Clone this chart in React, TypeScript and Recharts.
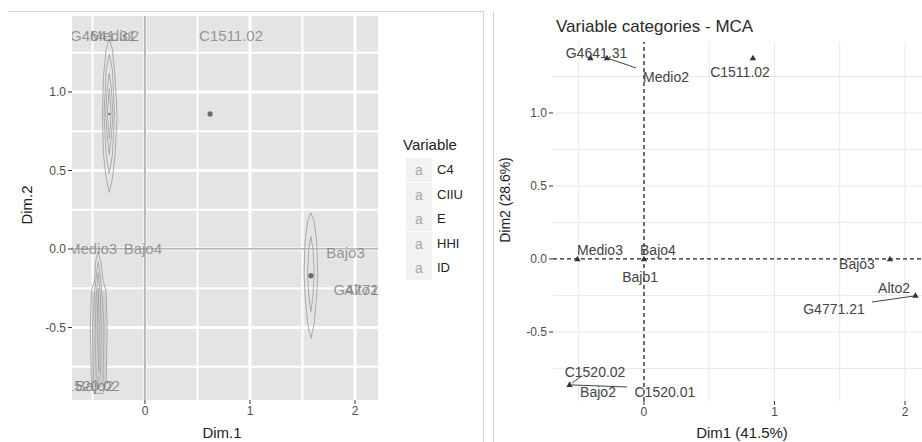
import React from 'react';
import { ScatterChart, Scatter, XAxis, YAxis, ReferenceLine, ReferenceArea, CartesianGrid } from 'recharts';

const FONT = '"Liberation Sans", Arial, Helvetica, sans-serif';

// ---------- Left panel data ----------
const leftXDomain = [-0.695, 2.219];
const leftYDomain = [-0.962, 1.484];
const leftXTicks = [0, 1, 2];
const leftYTicks = [-0.5, 0, 0.5, 1];
const leftMajorX = [0, 1, 2];
const leftMinorX = [-0.5, 0.5, 1.5];
const leftMajorY = [-0.5, 0, 0.5, 1];
const leftMinorY = [-0.75, -0.25, 0.25, 0.75, 1.25];

const leftBigPoints = [
  { x: 0.62, y: 0.86 },
  { x: 1.58, y: -0.17 },
];
const leftSmallPoints = [{ x: -0.34, y: 0.86 }];

const leftLabels = [
  { x: -0.4, y: 1.357, text: 'G4641.31' },
  { x: -0.29, y: 1.357, text: 'Medio2' },
  { x: 0.82, y: 1.357, text: 'C1511.02' },
  { x: -0.5, y: 0.0, text: 'Medio3' },
  { x: -0.02, y: 0.0, text: 'Bajo4' },
  { x: 1.91, y: -0.02, text: 'Bajo3' },
  { x: 2.11, y: -0.26, text: 'G4771.21' },
  { x: 2.06, y: -0.26, text: 'Alto2' },
  { x: -0.55, y: -0.87, text: 'C1520.02' },
  { x: -0.48, y: -0.87, text: 'Bajo2' },
];

// density contours
const contourA1 = [
  { x: -0.34, y: 0.36 }, { x: -0.31, y: 0.45 }, { x: -0.285, y: 0.6 }, { x: -0.265, y: 0.85 },
  { x: -0.285, y: 1.1 }, { x: -0.31, y: 1.27 }, { x: -0.34, y: 1.34 }, { x: -0.37, y: 1.27 },
  { x: -0.395, y: 1.1 }, { x: -0.405, y: 0.85 }, { x: -0.395, y: 0.6 }, { x: -0.37, y: 0.45 }, { x: -0.34, y: 0.36 },
];
const contourA2 = [
  { x: -0.34, y: 0.48 }, { x: -0.31, y: 0.6 }, { x: -0.29, y: 0.86 }, { x: -0.31, y: 1.14 },
  { x: -0.34, y: 1.24 }, { x: -0.37, y: 1.14 }, { x: -0.39, y: 0.86 }, { x: -0.37, y: 0.6 }, { x: -0.34, y: 0.48 },
];
const contourA3 = [
  { x: -0.34, y: 0.6 }, { x: -0.32, y: 0.72 }, { x: -0.305, y: 0.86 }, { x: -0.32, y: 1.02 },
  { x: -0.34, y: 1.12 }, { x: -0.36, y: 1.02 }, { x: -0.375, y: 0.86 }, { x: -0.36, y: 0.72 }, { x: -0.34, y: 0.6 },
];
const contourA4 = [
  { x: -0.34, y: 0.7 }, { x: -0.322, y: 0.86 }, { x: -0.34, y: 1.02 }, { x: -0.358, y: 0.86 }, { x: -0.34, y: 0.7 },
];
const contourB1 = [
  { x: 1.58, y: -0.57 }, { x: 1.61, y: -0.48 }, { x: 1.635, y: -0.3 }, { x: 1.645, y: -0.15 },
  { x: 1.635, y: 0.05 }, { x: 1.61, y: 0.18 }, { x: 1.58, y: 0.23 }, { x: 1.55, y: 0.18 },
  { x: 1.525, y: 0.05 }, { x: 1.515, y: -0.15 }, { x: 1.525, y: -0.3 }, { x: 1.55, y: -0.48 }, { x: 1.58, y: -0.57 },
];
const contourB2 = [
  { x: 1.58, y: -0.4 }, { x: 1.6, y: -0.3 }, { x: 1.612, y: -0.15 }, { x: 1.6, y: 0.0 },
  { x: 1.58, y: 0.08 }, { x: 1.56, y: 0.0 }, { x: 1.548, y: -0.15 }, { x: 1.56, y: -0.3 }, { x: 1.58, y: -0.4 },
];
const contourC1 = [
  { x: -0.445, y: -0.02 }, { x: -0.42, y: -0.08 }, { x: -0.4, y: -0.2 }, { x: -0.37, y: -0.27 },
  { x: -0.36, y: -0.5 }, { x: -0.37, y: -0.85 }, { x: -0.4, y: -0.92 }, { x: -0.48, y: -0.92 },
  { x: -0.51, y: -0.85 }, { x: -0.52, y: -0.5 }, { x: -0.51, y: -0.27 }, { x: -0.48, y: -0.2 },
  { x: -0.47, y: -0.08 }, { x: -0.445, y: -0.02 },
];
const contourC2 = [
  { x: -0.445, y: -0.08 }, { x: -0.43, y: -0.15 }, { x: -0.41, y: -0.28 }, { x: -0.39, y: -0.5 },
  { x: -0.4, y: -0.84 }, { x: -0.445, y: -0.89 }, { x: -0.49, y: -0.84 }, { x: -0.5, y: -0.5 },
  { x: -0.48, y: -0.28 }, { x: -0.46, y: -0.15 }, { x: -0.445, y: -0.08 },
];
const contourC3 = [
  { x: -0.445, y: -0.15 }, { x: -0.425, y: -0.3 }, { x: -0.415, y: -0.55 }, { x: -0.425, y: -0.8 },
  { x: -0.445, y: -0.85 }, { x: -0.465, y: -0.8 }, { x: -0.475, y: -0.55 }, { x: -0.465, y: -0.3 }, { x: -0.445, y: -0.15 },
];
const contourC4 = [
  { x: -0.445, y: -0.25 }, { x: -0.435, y: -0.5 }, { x: -0.44, y: -0.78 }, { x: -0.455, y: -0.5 }, { x: -0.445, y: -0.25 },
];
const leftContours = [contourA1, contourA2, contourA3, contourA4, contourB1, contourB2, contourC1, contourC2, contourC3, contourC4];
// dense band of overlapping contours (lower-left cluster)
const denseBand = { x1: -0.505, x2: -0.37, y1: -0.88, y2: -0.27 };

const legendTitle = 'Variable';
const legendItems = ['C4', 'CIIU', 'E', 'HHI', 'ID'];

// ---------- Right panel data ----------
const rightXDomain = [-0.697, 2.253];
const rightYDomain = [-0.973, 1.486];
const rightXTicks = [0, 1, 2];
const rightYTicks = [-0.5, 0, 0.5, 1];
const rightGridX = [-0.5, 0.5, 1, 1.5, 2];
const rightGridY = [-0.75, -0.5, -0.25, 0.25, 0.5, 0.75, 1, 1.25];

const rightPoints = [
  { x: -0.41, y: 1.377 },
  { x: -0.284, y: 1.377 },
  { x: 0.835, y: 1.377 },
  { x: -0.51, y: 0.0 },
  { x: 0.0, y: 0.0 },
  { x: 1.885, y: 0.0 },
  { x: 2.08, y: -0.25 },
  { x: -0.57, y: -0.86 },
];
const rightLabels = [
  { x: -0.364, y: 1.411, text: 'G4641.31' },
  { x: 0.169, y: 1.247, text: 'Medio2' },
  { x: 0.736, y: 1.281, text: 'C1511.02' },
  { x: -0.337, y: 0.062, text: 'Medio3' },
  { x: 0.107, y: 0.062, text: 'Bajo4' },
  { x: -0.03, y: -0.123, text: 'Bajo1' },
  { x: 1.632, y: -0.034, text: 'Bajo3' },
  { x: 1.916, y: -0.2, text: 'Alto2' },
  { x: 1.456, y: -0.342, text: 'G4771.21' },
  { x: -0.375, y: -0.774, text: 'C1520.02' },
  { x: -0.352, y: -0.911, text: 'Bajo2' },
  { x: 0.16, y: -0.911, text: 'C1520.01' },
];
const segMedio2 = [{ x: -0.284, y: 1.377 }, { x: -0.061, y: 1.308 }];
const segG4771 = [{ x: 1.747, y: -0.295 }, { x: 2.077, y: -0.253 }];
const segC152001 = [{ x: -0.552, y: -0.863 }, { x: -0.13, y: -0.877 }];
const segC152002 = [{ x: -0.552, y: -0.85 }, { x: -0.475, y: -0.8 }];
const rightSegments = [segMedio2, segG4771, segC152001, segC152002];

const fmt1 = (v: number) => (v === 0 ? '0.0' : v.toFixed(1));
const none = () => <g />;

const mkLabel = (fill: string, fs: number) => (p: any) => (
  <text x={p.cx} y={p.cy} textAnchor="middle" dominantBaseline="central" fill={fill} fontSize={fs} fontFamily={FONT}>
    {p.payload.text}
  </text>
);
const mkDot = (r: number, fill: string) => (p: any) => <circle cx={p.cx} cy={p.cy} r={r} fill={fill} />;
const tri = (p: any) => (
  <polygon points={`${p.cx},${p.cy - 3.2} ${p.cx - 3.2},${p.cy + 2.4} ${p.cx + 3.2},${p.cy + 2.4}`} fill="#333" />
);

const tickStyle = { fill: '#4d4d4d', fontSize: 12, fontFamily: FONT };

export default function App() {
  return (
    <div style={{ position: 'absolute', left: 0, top: 0, width: 922, height: 442, overflow: 'hidden', background: '#fff', fontFamily: FONT }}>
      {/* frame lines */}
      <div style={{ position: 'absolute', left: 8, top: 11, width: 475, height: 1, background: '#d4d4d4' }} />
      <div style={{ position: 'absolute', left: 483, top: 11, width: 1, height: 431, background: '#d4d4d4' }} />
      <div style={{ position: 'absolute', left: 493, top: 11, width: 1, height: 431, background: '#d4d4d4' }} />

      {/* Left panel */}
      <div style={{ position: 'absolute', left: 0, top: 0 }}>
        <ScatterChart width={380} height={442} margin={{ top: 16, right: 2, left: 0, bottom: 0 }}>
          <CartesianGrid fill="#e4e4e4" stroke="#ffffff" strokeWidth={2}
            verticalValues={leftMinorX} horizontalValues={leftMinorY} />
          <CartesianGrid stroke="#ffffff" strokeWidth={3}
            verticalValues={leftMajorX} horizontalValues={leftMajorY} />
          <XAxis type="number" dataKey="x" domain={leftXDomain} ticks={leftXTicks} allowDataOverflow height={42}
            axisLine={false} tickLine={{ stroke: '#333' }} tickSize={4} tick={tickStyle} interval={0} />
          <YAxis type="number" dataKey="y" domain={leftYDomain} ticks={leftYTicks} allowDataOverflow width={72}
            axisLine={false} tickLine={{ stroke: '#333' }} tickSize={4} tick={tickStyle} tickFormatter={fmt1} interval={0} />
          <ReferenceArea x1={denseBand.x1} x2={denseBand.x2} y1={denseBand.y1} y2={denseBand.y2} fill="#d0d0d0" fillOpacity={1} stroke="none" />
          <ReferenceLine x={0} stroke="#8f8f8f" strokeWidth={1.2} />
          <ReferenceLine y={0} stroke="#a0a0a0" strokeWidth={1.2} />
          {leftContours.map((c, i) => (
            <Scatter key={'c' + i} data={c} line={{ stroke: '#aaaaaa', strokeWidth: 1, fill: 'none' }} lineType="joint" shape={none} isAnimationActive={false} />
          ))}
          <Scatter data={leftBigPoints} shape={mkDot(2.6, '#6a6a6a')} isAnimationActive={false} />
          <Scatter data={leftSmallPoints} shape={mkDot(1.3, '#777')} isAnimationActive={false} />
        </ScatterChart>
      </div>
      {/* Left labels, clipped to panel */}
      <div style={{ position: 'absolute', left: 72, top: 16, width: 306, height: 384, overflow: 'hidden' }}>
        <ScatterChart width={306} height={384} margin={{ top: 0, right: 0, left: 0, bottom: 0 }}>
          <XAxis type="number" dataKey="x" domain={leftXDomain} allowDataOverflow hide />
          <YAxis type="number" dataKey="y" domain={leftYDomain} allowDataOverflow hide />
          <Scatter data={leftLabels} shape={mkLabel('rgba(120,120,120,0.75)', 15)} isAnimationActive={false} />
        </ScatterChart>
      </div>
      {/* Left axis titles */}
      <div style={{ position: 'absolute', left: 172, top: 424, width: 100, textAlign: 'center', fontSize: 15, color: '#222', lineHeight: '18px' }}>Dim.1</div>
      <div style={{ position: 'absolute', left: -23, top: 196, width: 100, textAlign: 'center', fontSize: 15, color: '#222', lineHeight: '18px', transform: 'rotate(-90deg)' }}>Dim.2</div>
      {/* Left legend */}
      <div style={{ position: 'absolute', left: 403, top: 135, fontSize: 15, color: '#222', lineHeight: '20px' }}>{legendTitle}</div>
      {legendItems.map((t, i) => (
        <React.Fragment key={t}>
          <div style={{ position: 'absolute', left: 406, top: 158 + i * 24.6, width: 26, height: 24, background: '#f2f2f2', color: '#a8a8a8', fontSize: 14, lineHeight: '24px', textAlign: 'center' }}>a</div>
          <div style={{ position: 'absolute', left: 437, top: 158 + i * 24.6, fontSize: 13, color: '#222', lineHeight: '24px' }}>{t}</div>
        </React.Fragment>
      ))}

      {/* Right panel */}
      <div style={{ position: 'absolute', left: 556, top: 16, fontSize: 17, color: '#2a2a2a', lineHeight: '22px', whiteSpace: 'nowrap' }}>Variable categories - MCA</div>
      <div style={{ position: 'absolute', left: 493, top: 0 }}>
        <ScatterChart width={445} height={442} margin={{ top: 42, right: 0, left: 0, bottom: 0 }}>
          <XAxis type="number" dataKey="x" domain={rightXDomain} ticks={rightXTicks} allowDataOverflow height={41}
            axisLine={false} tickLine={{ stroke: '#333' }} tickSize={4} tick={tickStyle} interval={0} />
          <YAxis type="number" dataKey="y" domain={rightYDomain} ticks={rightYTicks} allowDataOverflow width={60}
            axisLine={false} tickLine={{ stroke: '#333' }} tickSize={4} tick={tickStyle} tickFormatter={fmt1} interval={0} />
          {rightGridX.map((v) => <ReferenceLine key={'rx' + v} x={v} stroke="#e9e9e9" strokeWidth={1} />)}
          {rightGridY.map((v) => <ReferenceLine key={'ry' + v} y={v} stroke="#e9e9e9" strokeWidth={1} />)}
          <ReferenceLine x={0} stroke="#222" strokeWidth={1.3} strokeDasharray="4 3" />
          <ReferenceLine y={0} stroke="#222" strokeWidth={1.3} strokeDasharray="4 3" />
          {rightSegments.map((s, i) => (
            <Scatter key={'s' + i} data={s} line={{ stroke: '#444', strokeWidth: 1, fill: 'none' }} lineType="joint" shape={none} isAnimationActive={false} />
          ))}
          <Scatter data={rightPoints} shape={tri} isAnimationActive={false} />
          <Scatter data={rightLabels} shape={mkLabel('#444', 14)} isAnimationActive={false} />
        </ScatterChart>
      </div>
      <div style={{ position: 'absolute', left: 662, top: 424, width: 160, textAlign: 'center', fontSize: 15, color: '#222', lineHeight: '18px' }}>Dim1 (41.5%)</div>
      <div style={{ position: 'absolute', left: 445, top: 191, width: 120, textAlign: 'center', fontSize: 14, color: '#222', lineHeight: '18px', transform: 'rotate(-90deg)' }}>Dim2 (28.6%)</div>
    </div>
  );
}
